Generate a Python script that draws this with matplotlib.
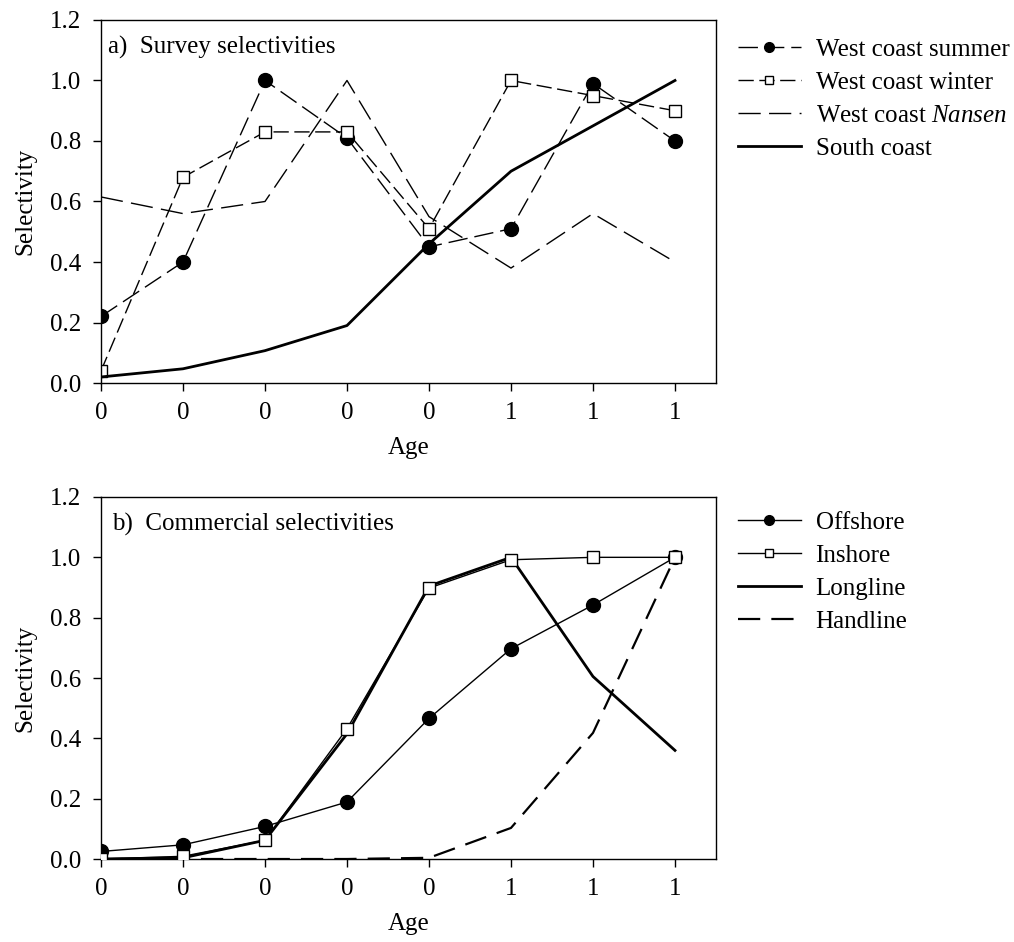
import matplotlib
matplotlib.use("Agg")
import matplotlib.pyplot as plt

plt.rcParams["font.family"] = ["Liberation Serif", "DejaVu Serif"]
plt.rcParams["mathtext.fontset"] = "custom"
plt.rcParams["mathtext.rm"] = "Liberation Serif"
plt.rcParams["mathtext.it"] = "Liberation Serif:italic"

ages = list(range(8))
age_labels = ["0", "0", "0", "0", "0", "1", "1", "1"]

# a) survey selectivities
wc_summer = [0.22, 0.40, 1.00, 0.81, 0.45, 0.51, 0.99, 0.80]
wc_winter = [0.04, 0.68, 0.83, 0.83, 0.51, 1.00, 0.95, 0.90]
wc_nansen = [0.615, 0.56, 0.60, 1.00, 0.55, 0.38, 0.56, 0.40]
south_coast = [0.02, 0.047, 0.107, 0.19, 0.46, 0.70, 0.85, 1.00]

# b) commercial selectivities
offshore = [0.025, 0.047, 0.108, 0.189, 0.466, 0.697, 0.842, 1.00]
inshore = [0.0, 0.009, 0.062, 0.432, 0.898, 0.992, 1.00, 1.00]
longline = [0.0, 0.004, 0.062, 0.415, 0.905, 1.00, 0.605, 0.36]
handline = [0.0, 0.0, 0.0, 0.0, 0.004, 0.103, 0.418, 1.00]

FS = 18
fig = plt.figure(figsize=(10.14, 9.42), dpi=100)
ax1 = fig.add_axes([0.0996, 0.5934, 0.6065, 0.3854])
ax2 = fig.add_axes([0.0996, 0.0881, 0.6065, 0.3843])

mk = dict(markersize=10, markeredgecolor="black", markeredgewidth=1)
ax1.plot(ages, wc_summer, color="black", lw=1, dashes=(14, 5), marker="o",
         markerfacecolor="black", label="West coast summer", **mk)
ax1.plot(ages, wc_winter, color="black", lw=1, dashes=(11, 4), marker="s",
         markerfacecolor="white", label="West coast winter",
         markersize=9, markeredgecolor="black", markeredgewidth=1)
ax1.plot(ages, wc_nansen, color="black", lw=1, dashes=(16, 6),
         label=r"West coast $\mathit{Nansen}$")
ax1.plot(ages, south_coast, color="black", lw=2, label="South coast")
ax1.text(0.012, 0.925, "a)  Survey selectivities", transform=ax1.transAxes,
         fontsize=FS, va="center", ha="left")

ax2.plot(ages, longline, color="black", lw=2, label="Longline", zorder=2)
ax2.plot(ages, handline, color="black", lw=1.6, dashes=(10, 5),
         label="Handline", zorder=2)
ax2.plot(ages, offshore, color="black", lw=1, marker="o",
         markerfacecolor="black", label="Offshore", zorder=3, **mk)
ax2.plot(ages, inshore, color="black", lw=1, marker="s",
         markerfacecolor="white", label="Inshore", zorder=3,
         markersize=9, markeredgecolor="black", markeredgewidth=1)
ax2.text(0.018, 0.925, "b)  Commercial selectivities", transform=ax2.transAxes,
         fontsize=FS, va="center", ha="left")

for ax in (ax1, ax2):
    ax.set_xlim(0, 7.5)
    ax.set_ylim(0, 1.2)
    ax.set_xticks(ages)
    ax.set_xticklabels(age_labels)
    ax.set_yticks([0.0, 0.2, 0.4, 0.6, 0.8, 1.0, 1.2])
    ax.set_yticklabels(["0.0", "0.2", "0.4", "0.6", "0.8", "1.0", "1.2"])
    ax.tick_params(direction="out", length=6, width=1, labelsize=FS,
                   top=False, right=False, pad=8)
    ax.set_xlabel("Age", fontsize=FS, labelpad=9)
    ax.set_ylabel("Selectivity", fontsize=FS, labelpad=10)
    for s in ax.spines.values():
        s.set_linewidth(1)

h, l = ax1.get_legend_handles_labels()
fig.legend(h, l, loc="upper left", bbox_to_anchor=(0.718, 0.9695),
           frameon=False, fontsize=FS, handlelength=2.5, handletextpad=0.6,
           labelspacing=0.42, markerscale=0.7, borderaxespad=0)

h, l = ax2.get_legend_handles_labels()
order = [2, 3, 0, 1]
fig.legend([h[i] for i in order], [l[i] for i in order], loc="upper left",
           bbox_to_anchor=(0.718, 0.468), frameon=False, fontsize=FS,
           handlelength=2.5, handletextpad=0.6, labelspacing=0.42,
           markerscale=0.7, borderaxespad=0)

fig.savefig("out.png", dpi=100)
